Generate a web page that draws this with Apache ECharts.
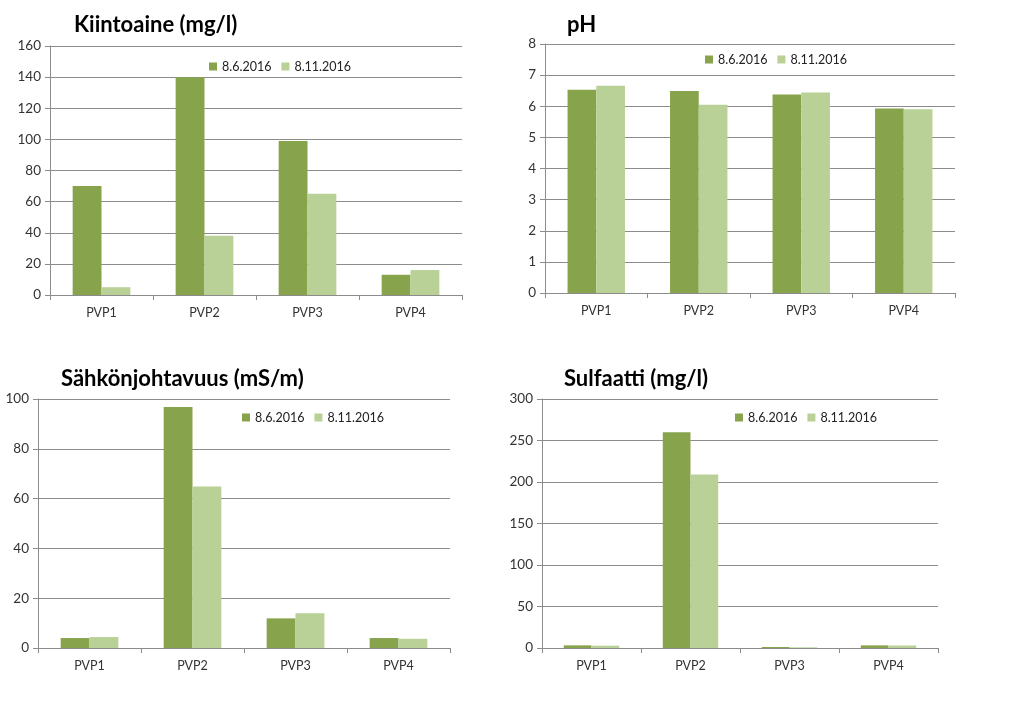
<!DOCTYPE html>
<html><head><meta charset="utf-8">
<script src="https://cdn.jsdelivr.net/npm/echarts@6/dist/echarts.min.js"></script>
<style>html,body{margin:0;padding:0;background:#fff}#c{width:1024px;height:707px}</style>
</head><body><div id="c"></div>
<script>
const categories = ['PVP1','PVP2','PVP3','PVP4'];
const seriesNames = ['8.6.2016','8.11.2016'];
const titles = ['Kiintoaine (mg/l)','pH','Sähkönjohtavuus (mS/m)','Sulfaatti (mg/l)'];
const kiintoaineJune = [70, 140, 99, 13];
const kiintoaineNov = [5, 38, 65, 16];
const phJune = [6.53, 6.49, 6.38, 5.93];
const phNov = [6.66, 6.05, 6.44, 5.9];
const sahkoJune = [4.0, 96.8, 11.9, 4.0];
const sahkoNov = [4.4, 64.9, 14.0, 3.7];
const sulfaattiJune = [3.2, 260, 1.2, 3.2];
const sulfaattiNov = [2.8, 209, 0.8, 3.0];
const yMax = [160, 8, 100, 300];
const yInterval = [20, 1, 20, 50];

const dataSets = [[kiintoaineJune,kiintoaineNov],[phJune,phNov],[sahkoJune,sahkoNov],[sulfaattiJune,sulfaattiNov]];
const grids = [
  {left:50, top:46, width:412, height:249},
  {left:545, top:44, width:410, height:249},
  {left:38, top:399, width:412, height:249},
  {left:542, top:399, width:396, height:249}
];
const titlePos = [{left:74, top:14},{left:567, top:14},{left:61, top:368},{left:564, top:368}];
const legendPos = [{left:209, top:60},{left:705, top:53},{left:242, top:411},{left:735, top:411}];
const colors = ['#87A44C','#B9D097'];
const font = 'Lato, "Open Sans", sans-serif';

const option = {
  animation:false,
  backgroundColor:'#fff',
  title: titles.map((t,i)=>({text:t, left:titlePos[i].left, top:titlePos[i].top, padding:0,
    textStyle:{fontFamily:font, fontSize:22, fontWeight:'bold', color:'#000'}})),
  legend: grids.map((g,i)=>({left:legendPos[i].left, top:legendPos[i].top, padding:0, itemWidth:8, itemHeight:8, itemGap:10,
    icon:'rect', data:seriesNames, textStyle:{fontFamily:font, fontSize:12.5, color:'#222'}})),
  grid: grids.map(g=>Object.assign({containLabel:false}, g)),
  xAxis: grids.map((g,i)=>({type:'category', gridIndex:i, data:categories,
    axisLine:{lineStyle:{color:'#8c8c8c'}},
    axisTick:{show:true, length:5, lineStyle:{color:'#8c8c8c'}},
    axisLabel:{fontFamily:font, fontSize:12.5, color:'#333', margin:11}})),
  yAxis: grids.map((g,i)=>({type:'value', gridIndex:i, min:0, max:yMax[i], interval:yInterval[i],
    axisLine:{show:true, lineStyle:{color:'#8c8c8c'}},
    axisTick:{show:true, length:5, lineStyle:{color:'#8c8c8c'}},
    splitLine:{lineStyle:{color:'#8c8c8c'}},
    axisLabel:{fontFamily:font, fontSize:13.5, color:'#333', margin:9}})),
  series: []
};
dataSets.forEach((ds,i)=>{
  ds.forEach((vals,j)=>{
    option.series.push({type:'bar', name:seriesNames[j], xAxisIndex:i, yAxisIndex:i, data:vals,
      itemStyle:{color:colors[j]}, barGap:'0%', barCategoryGap:'44%'});
  });
});
const chart = echarts.init(document.getElementById('c'));
chart.setOption(option);
</script></body></html>
